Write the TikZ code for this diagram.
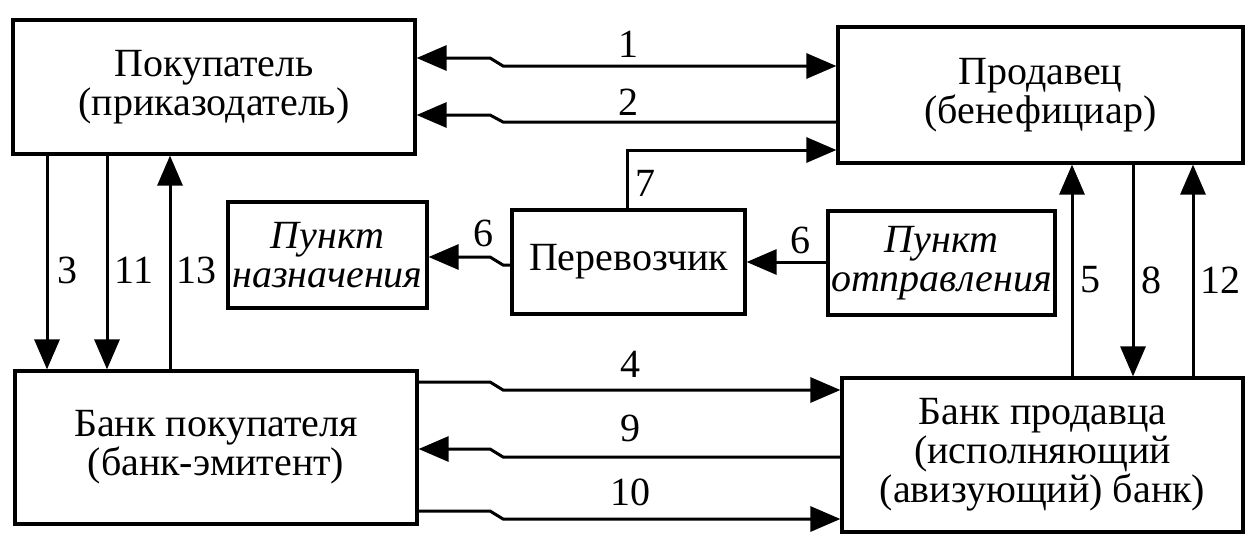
\documentclass[tikz,border=0pt]{standalone}
\usepackage{fontspec}
\setmainfont{Liberation Serif}
\usetikzlibrary{arrows.meta}
\begin{document}
\begin{tikzpicture}[x=0.5pt,y=-0.5pt,
  >={Triangle[length=15pt,width=12.5pt]},
  txt/.style={font=\fontsize{20}{19.5}\selectfont},
  box/.style={draw,line width=1.6pt,inner sep=0pt,align=center,txt},
  ibox/.style={box,font=\fontsize{20}{19.5}\selectfont\itshape},
  arr/.style={line width=1.5pt,->},
  lbl/.style={txt,inner sep=0pt}]
\useasboundingbox (0,0) rectangle (1258,552);

\node[box,minimum width=201pt,minimum height=67pt] (buyer) at (214,87) {Покупатель\\(приказодатель)};
\node[box,minimum width=202.5pt,minimum height=68pt] (seller) at (1040.5,95) {Продавец\\(бенефициар)};
\node[box,minimum width=201pt,minimum height=76.5pt] (bbank) at (216,447.5) {Банк покупателя\\(банк-эмитент)};
\node[box,minimum width=200.5pt,minimum height=77pt] (sbank) at (1042.5,455) {Банк продавца\\(исполняющий\\(авизующий) банк)};
\node[ibox,minimum width=99.5pt,minimum height=53pt] (dest) at (327.5,255) {Пункт\\назначения};
\node[box,minimum width=116.5pt,minimum height=52pt] (carrier) at (628.5,262) {Перевозчик};
\node[ibox,minimum width=113.5pt,minimum height=52pt] (origin) at (941.5,263) {Пункт\\отправления};

% 1
\draw[arr,<->] (buyer.east |- 0,58) -- (490,58) -- (503,66) -- (seller.west |- 0,66);
\node[lbl] (l1) at (628,44) {1};
% 2
\draw[arr] (seller.west |- 0,122) -- (503,122) -- (490,115) -- (buyer.east |- 0,115);
\node[lbl] (l2) at (628,102) {2};
% 7
\draw[arr] (carrier.north -| 627,0) -- (627,150) -- (seller.west |- 0,150);
\node[lbl] (l7) at (645,183) {7};
% 6 left
\draw[arr] (carrier.west |- 0,265) -- (503,265) -- (490,257) -- (dest.east |- 0,257);
\node[lbl] (l6a) at (483,233) {6};
% 6 right
\draw[arr] (origin.west |- 0,262) -- (carrier.east |- 0,262);
\node[lbl] (l6b) at (800,240) {6};
% 3, 11, 13
\draw[arr] (buyer.south -| 47,0) -- (bbank.north -| 47,0);
\node[lbl] (l3) at (67,270) {3};
\draw[arr] (buyer.south -| 107,0) -- (bbank.north -| 107,0);
\node[lbl] (l11) at (134,270) {11};
\draw[arr] (bbank.north -| 170,0) -- (buyer.south -| 170,0);
\node[lbl] (l13) at (196,270) {13};
% 5, 8, 12
\draw[arr] (sbank.north -| 1072,0) -- (seller.south -| 1072,0);
\node[lbl] (l5) at (1090,280) {5};
\draw[arr] (seller.south -| 1133,0) -- (sbank.north -| 1133,0);
\node[lbl] (l8) at (1151,280) {8};
\draw[arr] (sbank.north -| 1193,0) -- (seller.south -| 1193,0);
\node[lbl] (l12) at (1220,280) {12};
% 4
\draw[arr] (bbank.east |- 0,382) -- (490,382) -- (503,390) -- (sbank.west |- 0,390);
\node[lbl] (l4) at (630,364) {4};
% 9
\draw[arr] (sbank.west |- 0,457) -- (503,457) -- (490,449) -- (bbank.east |- 0,449);
\node[lbl] (l9) at (630,428) {9};
% 10
\draw[arr] (bbank.east |- 0,511) -- (490,511) -- (503,519) -- (sbank.west |- 0,519);
\node[lbl] (l10) at (630,492) {10};
\end{tikzpicture}
\end{document}
